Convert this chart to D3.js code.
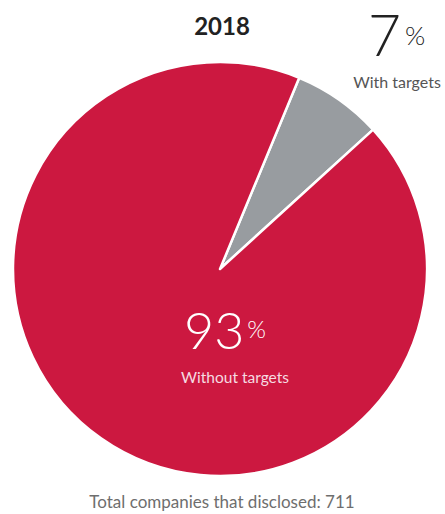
<!DOCTYPE html>
<html><head><meta charset="utf-8">
<script src="https://cdn.jsdelivr.net/npm/d3@7"></script>
<style>html,body{margin:0;padding:0;background:#fff;overflow:hidden}</style>
</head><body>
<svg id="c" width="445" height="514"></svg>
<script>
const categories = ["With targets", "Without targets"];
const values = [7, 93];
const percentLabels = ["7", "93"];
const title = "2018";
const footer = "Total companies that disclosed: 711";

const svg = d3.select("#c");
const cx = 220, cy = 269, r = 207;
const color = d3.scaleOrdinal().domain(categories).range(["#989ca0", "#cc1840"]);
const pie = d3.pie().sort(null).startAngle(22.5 * Math.PI / 180).endAngle(22.5 * Math.PI / 180 + 2 * Math.PI);
const arc = d3.arc().innerRadius(0).outerRadius(r);
const arcs = pie(values);
const g = svg.append("g").attr("transform", `translate(${cx},${cy})`);
g.selectAll("path").data(arcs).join("path")
  .attr("d", arc)
  .attr("fill", (d, i) => color(categories[i]))
  .attr("stroke", "#fff").attr("stroke-width", 2.5).attr("stroke-linejoin", "round");

const font = "Lato, 'Open Sans', sans-serif";
svg.append("text").attr("x", 222).attr("y", 35).attr("text-anchor", "middle")
  .attr("font-family", font).attr("font-weight", 700).attr("font-size", 24).attr("fill", "#222").text(title);

// With targets label
const t1 = svg.append("text").attr("x", 368).attr("y", 56).attr("font-family", font).attr("font-weight", 300).attr("fill", "#222");
t1.append("tspan").attr("font-size", 57).text(percentLabels[0]);
t1.append("tspan").attr("font-size", 26).attr("dx", 4).attr("dy", -11).text("%");
svg.append("text").attr("x", 397).attr("y", 88).attr("text-anchor", "middle")
  .attr("font-family", font).attr("font-size", 16).attr("fill", "#555").text(categories[0]);

// Without targets label
const t2 = svg.append("text").attr("x", 184).attr("y", 349).attr("font-family", font).attr("font-weight", 300).attr("fill", "#fff");
t2.append("tspan").attr("font-size", 52).text(percentLabels[1]);
t2.append("tspan").attr("font-size", 24).attr("dx", 3).attr("dy", -11).text("%");
svg.append("text").attr("x", 235).attr("y", 383).attr("text-anchor", "middle")
  .attr("font-family", font).attr("font-size", 15.5).attr("fill", "#f6dbe1").text(categories[1]);

svg.append("text").attr("x", 222).attr("y", 508).attr("text-anchor", "middle")
  .attr("font-family", font).attr("font-size", 17).attr("fill", "#6e6e6e").text(footer);
</script>
</body></html>
